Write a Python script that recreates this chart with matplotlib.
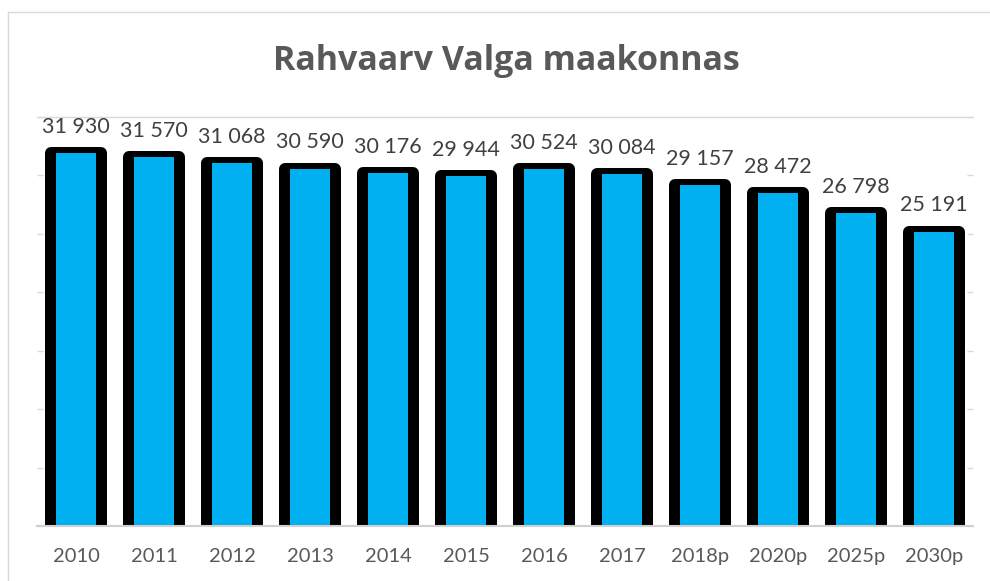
import matplotlib
matplotlib.use("Agg")
import matplotlib.pyplot as plt
from matplotlib.lines import Line2D

categories = ["2010", "2011", "2012", "2013", "2014", "2015", "2016", "2017",
              "2018p", "2020p", "2025p", "2030p"]
population = [31930, 31570, 31068, 30590, 30176, 29944, 30524, 30084,
              29157, 28472, 26798, 25191]
title = "Rahvaarv Valga maakonnas"
y_max = 35000
y_step = 5000

plt.rcParams["font.family"] = ["Lato", "DejaVu Sans"]

fig = plt.figure(figsize=(9.9, 5.81), dpi=100)
W, H = 990, 581
left, right, bottom, top = 37, 973, 526, 117
ax = fig.add_axes([left / W, 1 - bottom / H, (right - left) / W, (bottom - top) / H])

x = list(range(len(categories)))
slot_px = (right - left) / len(categories)
edge_px = 12.0
edge_pt = edge_px * 72 / 100
edge_offset = 1200  # push the bottom of the outline below the baseline (clipped)

# black outline bar (thick sides, rounded top corners)
ax.bar(x, [v + edge_offset for v in population], bottom=-edge_offset,
       width=(62 - edge_px) / slot_px, color="black", edgecolor="black",
       linewidth=edge_pt, joinstyle="round", zorder=2)
# blue fill
ax.bar(x, population, width=40 / slot_px, color="#00B0F0", linewidth=0, zorder=2.5)

ax.set_xlim(-0.5, len(categories) - 0.5)
ax.set_ylim(0, y_max)

for xi, v in zip(x, population):
    ax.annotate(f"{v:,}".replace(",", " "), (xi, v), xytext=(0, 14.5),
                textcoords="offset points", ha="center", va="baseline",
                fontsize=15.5, color="#404040", zorder=3)

ax.set_xticks(x)
ax.set_xticklabels(categories, fontsize=14.5, color="#595959")
ax.tick_params(axis="x", length=0, pad=16)

ax.set_yticks(list(range(0, y_max + 1, y_step)))
ax.set_yticklabels([])
ax.tick_params(axis="y", direction="in", length=4.5, width=1, color="#D9D9D9",
               left=True, right=True)

for s in ("left", "right"):
    ax.spines[s].set_visible(False)
ax.spines["top"].set_color("#D9D9D9")
ax.spines["top"].set_linewidth(1)
ax.spines["bottom"].set_color("#D0D0D0")
ax.spines["bottom"].set_linewidth(1.5)
ax.spines["bottom"].set_zorder(3)

fig.text(506 / W, 1 - 70 / H, title, ha="center", va="baseline", fontsize=24.5,
         fontweight="bold", color="#595959", family=["Open Sans", "DejaVu Sans"])

# outer chart border (left and top)
fig.add_artist(Line2D([7.5 / W, 7.5 / W], [0, 1 - 12 / H], transform=fig.transFigure,
                      color="#D9D9D9", linewidth=1))
fig.add_artist(Line2D([7.5 / W, 1], [1 - 12 / H, 1 - 12 / H], transform=fig.transFigure,
                      color="#D9D9D9", linewidth=1))

fig.savefig("out.png", dpi=100)
